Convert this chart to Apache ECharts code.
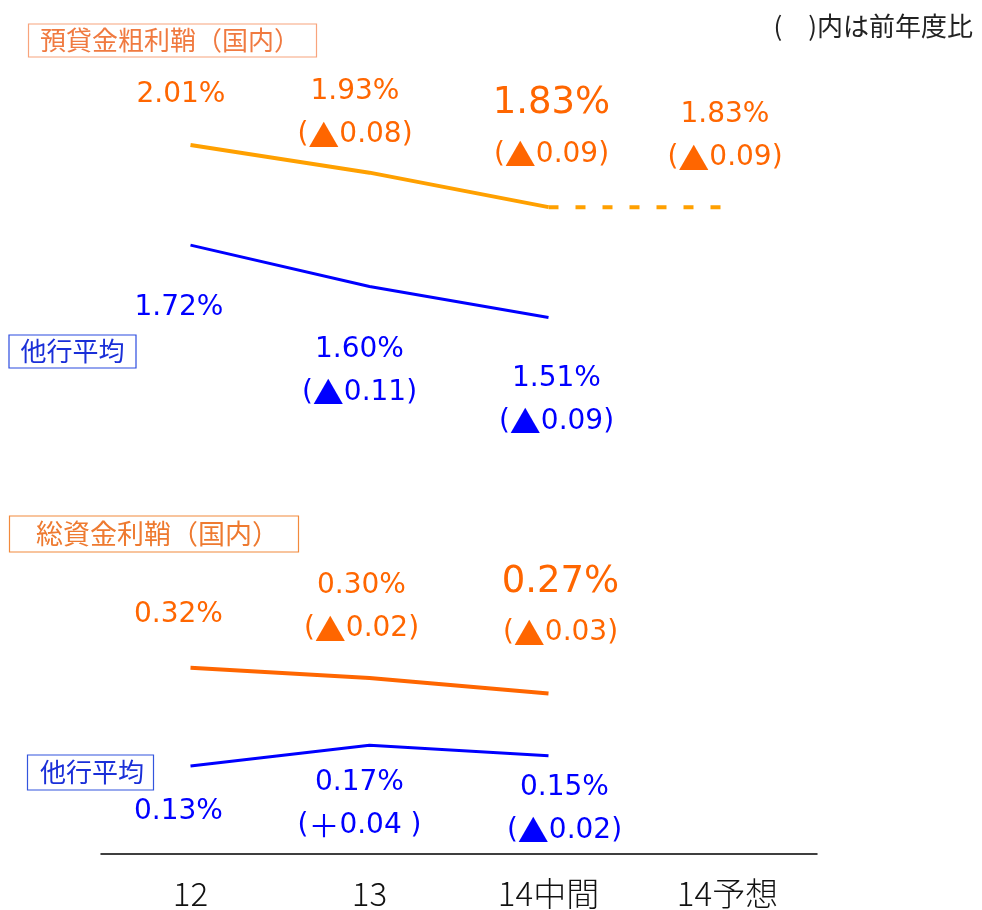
<!DOCTYPE html>
<html>
<head>
<meta charset="utf-8">
<title>利鞘の推移</title>
<script src="https://cdn.jsdelivr.net/npm/echarts@6.0.0/dist/echarts.min.js"></script>
<style>
  html, body { margin: 0; padding: 0; background: #fff; }
  #chart { width: 982px; height: 910px; }
</style>
</head>
<body>
<div id="chart"></div>
<script>
// 年度
const cats = ['12', '13', '14中間', '14予想'];

// 預貸金粗利鞘（国内）
const bankSpread = [2.01, 1.93, 1.83, 1.83];
const bankSpreadChg = ['', '▲0.08', '▲0.09', '▲0.09'];
const peerSpread = [1.72, 1.60, 1.51];
const peerSpreadChg = ['', '▲0.11', '▲0.09'];

// 総資金利鞘（国内）
const bankMargin = [0.32, 0.30, 0.27];
const bankMarginChg = ['', '▲0.02', '▲0.03'];
const peerMargin = [0.13, 0.17, 0.15];
const peerMarginChg = ['', '＋0.04 ', '▲0.02'];

const forecastIdx = 3;   // 14予想 は点線
const bigIdx = 2;        // 14中間 は大きく表示

// ラベル位置（点からのずれ）
const offBankSpread = [[-9.5, -50], [-14.5, -59], [3, -82], [-2.5, -70.5]];
const offPeerSpread = [[-11.5, 63], [-10, 84.5], [8, 82.5]];
const offBankMargin = [[-12, -53], [-8, -70.5], [12, -90]];
const offPeerMargin = [[-12, 46], [-10, 58.5], [16, 53.5]];

const ORANGE = '#FF6600';
const AMBER = '#FFA000';
const BLUE = '#0000FF';

const rich = {
  v: { fontSize: 28, lineHeight: 43, fontFamily: 'DejaVu Sans' },
  V: { fontSize: 37, lineHeight: 59, fontFamily: 'DejaVu Sans' },
  p: { fontSize: 28, lineHeight: 43, fontFamily: 'DejaVu Sans' },
  t: { fontSize: 31, lineHeight: 43, fontFamily: 'Noto Sans CJK JP' }
};

function fmtLabel(v, chg, big) {
  let s = (big ? '{V|' : '{v|') + v.toFixed(2) + '%}';
  if (chg) {
    s += '\n{p|(}{t|' + chg[0] + '}{p|' + chg.slice(1) + ')}';
  }
  return s;
}

// from..to の範囲だけ点を作る。labelFrom 以降にラベル
function makeItems(vals, chgs, offs, from, to, labelFrom, useBig) {
  return cats.map((c, i) => {
    if (i < from || i > to || vals[i] == null) return '-';
    if (i < labelFrom) return { value: vals[i], label: { show: false } };
    return {
      value: vals[i],
      label: {
        show: true,
        offset: offs[i],
        formatter: fmtLabel(vals[i], chgs[i], useBig && i === bigIdx)
      }
    };
  });
}

function lineSeries(grid, data, color, width, textColor, dash) {
  return {
    type: 'line',
    xAxisIndex: grid,
    yAxisIndex: grid,
    data: data,
    symbol: 'circle',
    symbolSize: 2,
    showSymbol: true,
    itemStyle: { color: 'rgba(0,0,0,0)' },
    lineStyle: { color: color, width: width, type: dash || 'solid', cap: 'butt' },
    label: { show: true, position: 'inside', color: textColor, rich: rich },
    emphasis: { disabled: true },
    silent: true
  };
}

function boxTitle(text, left, top, padding, fontSize, border, color) {
  return {
    text: text,
    left: left,
    top: top,
    padding: padding,
    borderColor: border,
    borderWidth: 1.2,
    textStyle: {
      fontFamily: 'Noto Sans CJK JP',
      fontWeight: 'normal',
      fontSize: fontSize,
      lineHeight: fontSize,
      color: color
    }
  };
}

const chart = echarts.init(document.getElementById('chart'), null, { renderer: 'canvas' });

const option = {
  animation: false,
  backgroundColor: '#fff',
  title: [
    boxTitle('預貸金粗利鞘（国内）', 28, 24, [3.5, 17, 3.5, 12], 26, '#F8A47C', '#F07A40'),
    boxTitle('他行平均', 9, 335, [3.5, 12, 3.5, 11.5], 26, '#2B4BE0', '#1A2FD8'),
    boxTitle('総資金利鞘（国内）', 9, 516, [4.5, 20, 4.5, 27], 27, '#F28A3C', '#EE7A30'),
    boxTitle('他行平均', 27, 755, [4.5, 10, 4.5, 13], 26, '#3355DD', '#1A2FD8'),
    {
      text: '(　)内は前年度比',
      right: 4,
      top: 8,
      textStyle: { fontFamily: 'Noto Sans CJK JP', fontWeight: 'normal', fontSize: 26, color: '#222' }
    }
  ],
  grid: [
    { left: 101, width: 716, top: 79.5, height: 345 },
    { left: 101, width: 716, top: 574.6, height: 280.8 }
  ],
  xAxis: [
    { type: 'category', gridIndex: 0, data: cats, show: false },
    {
      type: 'category', gridIndex: 1, data: cats,
      axisLine: { show: true, onZero: false, lineStyle: { color: '#000', width: 1.5 } },
      axisTick: { show: false },
      splitLine: { show: false },
      axisLabel: {
        fontFamily: "'DejaVu Sans ExtraLight', 'Noto Sans CJK JP'",
        fontWeight: 300, fontSize: 33, color: '#111', margin: 23
      }
    }
  ],
  yAxis: [
    { type: 'value', gridIndex: 0, min: 1.2, max: 2.2, show: false },
    { type: 'value', gridIndex: 1, min: -0.04, max: 0.5, show: false }
  ],
  series: [
    Object.assign(lineSeries(0, makeItems(bankSpread, bankSpreadChg, offBankSpread, 0, forecastIdx - 1, 0, true), AMBER, 4, ORANGE), { z: 3 }),
    lineSeries(0, makeItems(bankSpread, bankSpreadChg, offBankSpread, forecastIdx - 1, forecastIdx, forecastIdx, true), AMBER, 4, ORANGE, [10, 17]),
    lineSeries(0, makeItems(peerSpread, peerSpreadChg, offPeerSpread, 0, 2, 0, false), BLUE, 3, BLUE),
    lineSeries(1, makeItems(bankMargin, bankMarginChg, offBankMargin, 0, 2, 0, true), ORANGE, 4, ORANGE),
    lineSeries(1, makeItems(peerMargin, peerMarginChg, offPeerMargin, 0, 2, 0, false), BLUE, 3, BLUE)
  ]
};

chart.setOption(option);
</script>
</body>
</html>
